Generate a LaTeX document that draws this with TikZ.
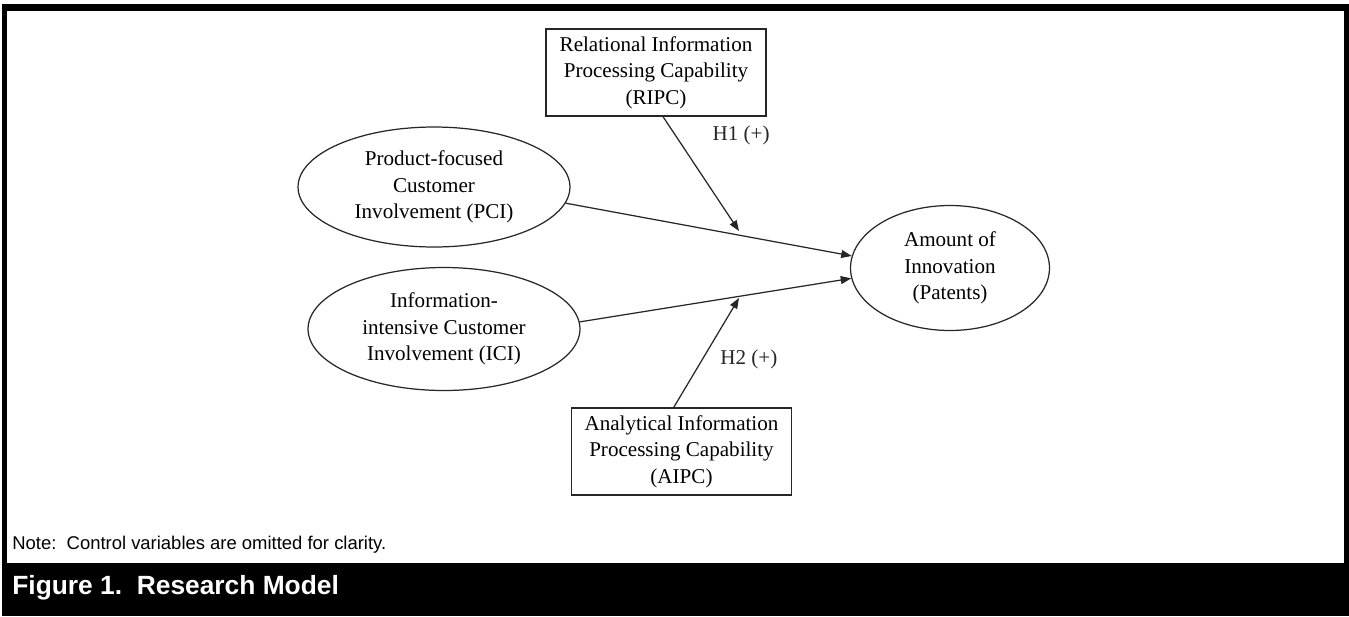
\documentclass[tikz,border=0pt]{standalone}
\usepackage{fontspec}
\setmainfont{Liberation Serif}
\setsansfont{Liberation Sans}
\usetikzlibrary{arrows.meta, shapes.geometric}

\begin{document}
\begin{tikzpicture}[
    x=0.02cm, y=-0.02cm,
    box/.style={
        draw=black!85, line width=0.7pt, minimum width=4.4cm, minimum height=1.74cm,
        inner sep=0pt, align=center, font=\fontsize{12}{15}\selectfont
    },
    oval/.style={
        ellipse, draw=black!85, line width=0.7pt, inner sep=0pt, align=center,
        font=\fontsize{12}{15}\selectfont
    },
    arrow/.style={
        -{Triangle[length=6pt, width=4.5pt]}, line width=0.7pt, black!85
    },
    lbl/.style={font=\fontsize{12}{15}\selectfont, inner sep=0pt, anchor=west}
]

\useasboundingbox (0,0) rectangle (1349,616);
\fill[black] (2,4) rectangle (1349,616);
\fill[white] (7,11) rectangle (1344,563);

\node[box] (ripc) at (656,72.5) {Relational Information\\Processing Capability\\(RIPC)};

\node[oval, minimum width=5.44cm, minimum height=2.4cm] (pci) at (434,187) {Product-focused\\Customer\\Involvement (PCI)};

\node[oval, minimum width=5.44cm, minimum height=2.46cm] (ici) at (444,329) {Information-\\intensive Customer\\Involvement (ICI)};

\node[oval, minimum width=3.98cm, minimum height=2.5cm] (pat) at (950,268) {Amount of\\Innovation\\(Patents)};

\node[box] (aipc) at (681.5,451.5) {Analytical Information\\Processing Capability\\(AIPC)};

\coordinate (h1end) at (739,231);
\coordinate (h2end) at (739,298);

\draw[arrow] (pci.-7) -- (pat.173);

\draw[arrow] (ici.3) -- (pat.186);

\draw[arrow] (ripc.-81) -- node[lbl, pos=0.165, right=0.73cm] {H1 (+)} (h1end);

\draw[arrow] (aipc.100) -- node[lbl, pos=0.436, right=0.35cm] {H2 (+)} (h2end);

\node[anchor=west, inner sep=0pt, font=\sffamily\fontsize{10.5}{12}\selectfont] (note) at (12,545) {Note:\ \ Control variables are omitted for clarity.};

\node[anchor=west, inner sep=0pt, text=white, font=\sffamily\bfseries\fontsize{15}{18}\selectfont] (caption) at (12,588) {Figure 1.\ \ Research Model};

\end{tikzpicture}
\end{document}
